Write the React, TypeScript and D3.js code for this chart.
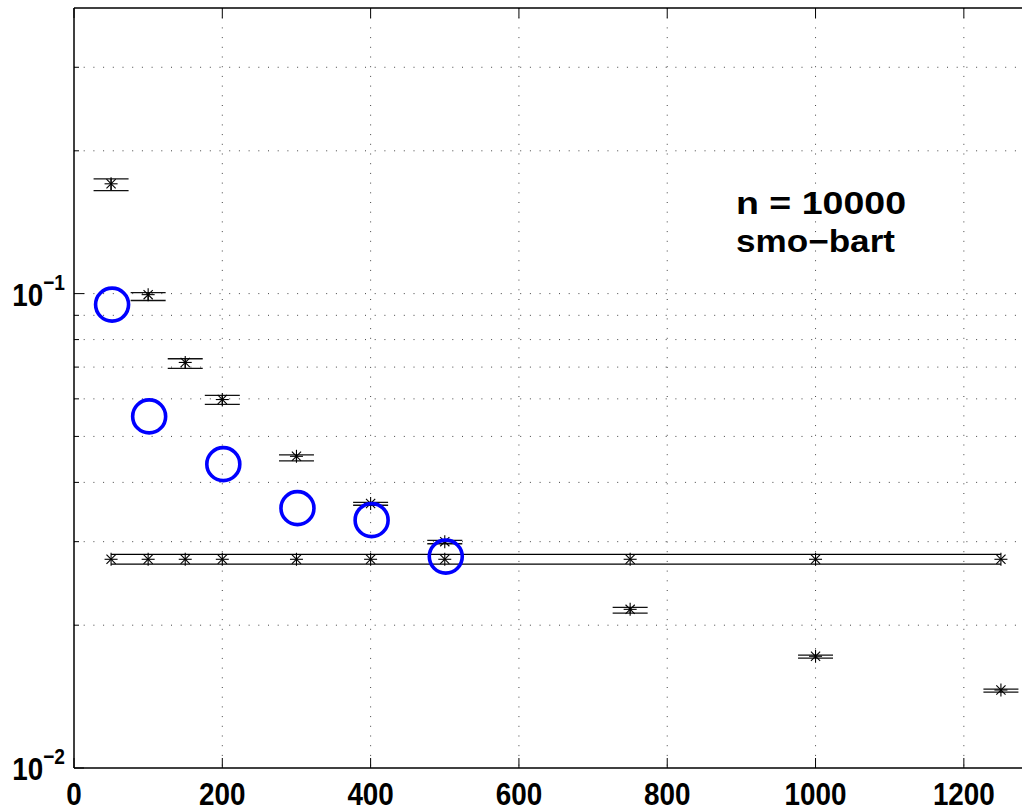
import React from "react";
import * as d3 from "d3";

const xs = [50, 100, 150, 200, 300, 400, 500, 750, 1000, 1250];
const meanErr = [0.1704, 0.0995, 0.0716, 0.0598, 0.0454, 0.0361, 0.0300, 0.0216, 0.0172, 0.0146];
const upperErr = [0.1746, 0.1005, 0.0729, 0.0610, 0.0457, 0.0363, 0.0302, 0.0218, 0.01729, 0.01467];
const lowerErr = [0.1648, 0.0967, 0.0696, 0.0584, 0.0444, 0.0358, 0.0297, 0.0212, 0.01705, 0.01445];

const baseValue = 0.02754;
const baseUpper = 0.0282;
const baseLower = 0.0269;

const circleXs = [50, 100, 200, 300, 400, 500];
const circleVals = [0.0948, 0.0551, 0.0437, 0.0353, 0.0333, 0.0279];

const xTicks = [0, 200, 400, 600, 800, 1000, 1200];
const yMajor = [0.01, 0.1];
const yMajorLabels = ["\u22122", "\u22121"];
const yMinor = [0.02, 0.03, 0.04, 0.05, 0.06, 0.07, 0.08, 0.09, 0.2, 0.3];

const annotation = ["n = 10000", "smo\u2212bart"];
const annotationWidths = [170, 159];

const W = 1022, H = 809;
const left = 74, top = 8, bottom = 768, right = 1038;

export default function App() {
  const x = d3.scaleLinear().domain([0, 1300]).range([left, right]);
  const y = d3.scaleLog().domain([0.01, 0.4]).range([bottom, top]);
  const font = "'Liberation Sans', Arial, Helvetica, sans-serif";
  const grid = { stroke: "#444", strokeWidth: 1, strokeDasharray: "1 8.7" };
  const cap = 17.5;
  const star = (cx: number, cy: number, key: string) => {
    const s = 6.5, d = 4.6;
    return (
      <g key={key} stroke="#000" strokeWidth={1.1}>
        <line x1={cx - s} y1={cy} x2={cx + s} y2={cy} />
        <line x1={cx} y1={cy - s} x2={cx} y2={cy + s} />
        <line x1={cx - d} y1={cy - d} x2={cx + d} y2={cy + d} />
        <line x1={cx - d} y1={cy + d} x2={cx + d} y2={cy - d} />
      </g>
    );
  };
  return (
    <div style={{ position: "fixed", left: 0, top: 0 }}>
      <svg width={W} height={H} style={{ display: "block", background: "#fff" }}>
        <rect x={0} y={0} width={W} height={H} fill="#fff" />
        {/* grid */}
        {xTicks.slice(1).map((t) => (
          <line key={"gx" + t} x1={x(t)} x2={x(t)} y1={top} y2={bottom} style={grid} />
        ))}
        {[...yMinor, 0.1].map((t) => (
          <line key={"gy" + t} x1={left} x2={right} y1={y(t)} y2={y(t)} style={grid} />
        ))}
        {/* axes */}
        <g stroke="#000" strokeWidth={1.5} fill="none">
          <line x1={left} x2={right} y1={bottom} y2={bottom} />
          <line x1={left} x2={right} y1={top} y2={top} />
          <line x1={left} x2={left} y1={top} y2={bottom} />
        </g>
        <g stroke="#000" strokeWidth={1}>
          {xTicks.map((t) => (
            <g key={"tx" + t}>
              <line x1={x(t)} x2={x(t)} y1={bottom} y2={bottom - 10} />
              <line x1={x(t)} x2={x(t)} y1={top} y2={top + 10} />
            </g>
          ))}
          {yMajor.map((t) => (
            <line key={"tym" + t} x1={left} x2={left + 10} y1={y(t)} y2={y(t)} />
          ))}
          {yMinor.map((t) => (
            <line key={"tyn" + t} x1={left} x2={left + 5} y1={y(t)} y2={y(t)} />
          ))}
        </g>
        {/* tick labels */}
        {xTicks.map((t) => (
          <text key={"lx" + t} transform={`translate(${x(t)},805) scale(0.87,1)`} textAnchor="middle"
            fontFamily={font} fontWeight="bold" fontSize={32} fill="#000">{t}</text>
        ))}
        {yMajor.map((t, i) => (
          <text key={"ly" + t} transform={`translate(${left - 9},${y(t) + 12}) scale(0.87,1)`}
            textAnchor="end" fontFamily={font} fontWeight="bold" fontSize={32} fill="#000">
            10<tspan dy={-16} fontSize={22}>{yMajorLabels[i]}</tspan>
          </text>
        ))}
        {/* constant band */}
        <g stroke="#000" strokeWidth={1.2}>
          <line x1={x(xs[0])} x2={x(xs[xs.length - 1])} y1={y(baseUpper)} y2={y(baseUpper)} />
          <line x1={x(xs[0])} x2={x(xs[xs.length - 1])} y1={y(baseLower)} y2={y(baseLower)} />
        </g>
        {xs.map((v, i) => star(x(v), y(baseValue), "b" + i))}
        {/* error bars */}
        {xs.map((v, i) => (
          <g key={"e" + i} stroke="#111" strokeWidth={1.3}>
            <line x1={x(v)} x2={x(v)} y1={y(upperErr[i])} y2={y(lowerErr[i])} />
            <line x1={x(v) - cap} x2={x(v) + cap} y1={y(upperErr[i])} y2={y(upperErr[i])} />
            <line x1={x(v) - cap} x2={x(v) + cap} y1={y(lowerErr[i])} y2={y(lowerErr[i])} />
          </g>
        ))}
        {xs.map((v, i) => star(x(v), y(meanErr[i]), "m" + i))}
        {/* circles */}
        {circleXs.map((v, i) => (
          <circle key={"c" + i} cx={x(v) + 1} cy={y(circleVals[i])} r={16.5}
            fill="none" stroke="#0000ff" strokeWidth={3.6} />
        ))}
        {/* annotation */}
        {annotation.map((s, i) => (
          <text key={"a" + i} x={736} y={214 + i * 38} fontFamily={font} fontWeight="bold"
            fontSize={31} fill="#000" textLength={annotationWidths[i]} lengthAdjust="spacingAndGlyphs">{s}</text>
        ))}
      </svg>
    </div>
  );
}
